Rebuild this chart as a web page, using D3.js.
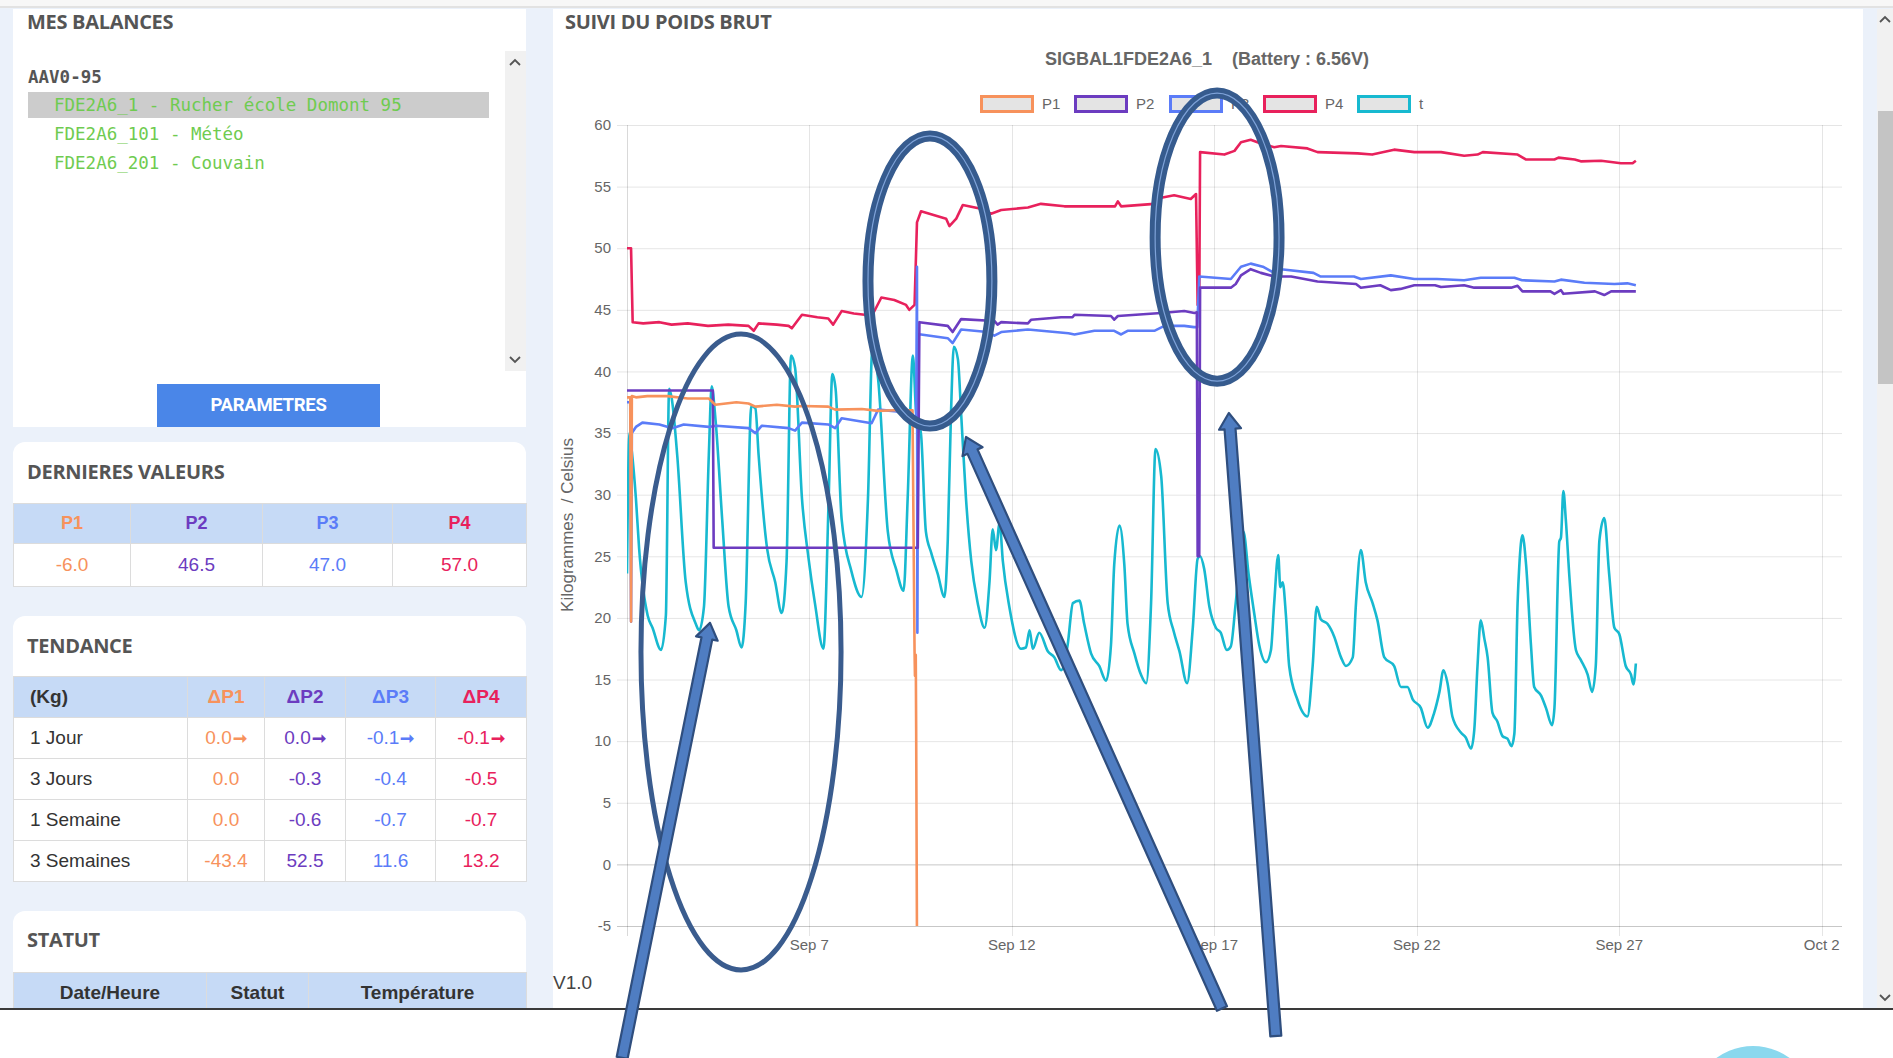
<!DOCTYPE html>
<html><head><meta charset="utf-8">
<script src="https://cdn.jsdelivr.net/npm/d3@7"></script>
<style>
html,body{margin:0;padding:0;}
body{width:1893px;height:1058px;overflow:hidden;background:#ebf1fa;position:relative;font-family:"Liberation Sans",Arial,sans-serif;}
.h{position:absolute;font-family:"Open Sans",sans-serif;font-weight:700;font-size:20px;line-height:24px;color:#555;letter-spacing:-0.3px;white-space:nowrap;}
table{border-collapse:collapse;position:absolute;font-family:"Liberation Sans",Arial,sans-serif;table-layout:fixed;}
td,th{border:1px solid #dcdcdc;padding:0;text-align:center;white-space:nowrap;}
th{background:#c6daf6;font-weight:700;}
.mono{position:absolute;font-family:"DejaVu Sans Mono",monospace;font-size:17.5px;white-space:pre;}
#ov{position:absolute;left:0;top:0;}
</style></head><body>
<div id="page"></div>
<svg id="ov" width="1893" height="1058"></svg>
<script>
// ---------------- DATA ----------------
const chartTitle = "SIGBAL1FDE2A6_1    (Battery : 6.56V)";
const seriesNames = ["P1","P2","P3","P4","t"];
const seriesColors = ["#f7925c","#6c3cc0","#5b7cf8","#e8215c","#17b9d0"];
const yTicks = [60,55,50,45,40,35,30,25,20,15,10,5,0,-5];
const xTickDays = [[8,7],[8,12],[8,17],[8,22],[8,27],[9,2]]; // [month index, day]
// series as [day of September, value]
const P1 = [[2.5,37.9],[2.58,37.9],[2.6,19.7],[2.62,38.0],[2.72,37.9],[3.0,38.0],[3.5,38.0],[4.0,37.8],[4.52,37.8],[4.68,37.3],[5.2,37.5],[5.5,37.4],[5.67,37.15],[6.2,37.3],[6.65,37.15],[6.82,37.2],[7.47,37.15],[7.64,36.9],[8.3,36.95],[8.7,36.8],[9.1,36.85],[9.55,36.85],[9.6,17.3],[9.61,15.3],[9.63,17.0],[9.64,11.0],[9.66,-6.0],[27.41,-6.0]];
const P2 = [[2.5,38.45],[4.62,38.45],[4.64,25.7],[9.68,25.7],[9.72,44.0],[10.42,43.7],[10.54,43.2],[10.75,44.25],[11.57,44.1],[11.65,43.8],[11.74,44.0],[12.4,43.9],[12.48,44.2],[13.22,44.4],[13.5,44.4],[13.55,44.6],[14.45,44.5],[14.53,44.2],[14.62,44.5],[15.69,44.75],[16.26,44.9],[16.51,44.75],[16.57,44.8],[16.59,25.0],[16.63,25.0],[16.65,46.8],[17.41,46.8],[17.53,47.1],[17.66,47.8],[17.9,48.3],[18.15,48.0],[18.48,47.7],[18.9,47.7],[19.55,47.3],[20.5,47.1],[20.62,46.8],[21.1,47.0],[21.36,46.6],[21.6,46.7],[21.94,47.0],[22.45,47.0],[22.6,46.85],[23.17,47.0],[23.42,46.8],[24.33,46.8],[24.49,46.95],[24.61,46.5],[25.3,46.5],[25.4,46.3],[25.56,46.6],[25.62,46.3],[26.4,46.5],[26.63,46.2],[26.8,46.5],[27.41,46.5]];
const P3 = [[2.5,37.5],[2.58,37.5],[2.6,19.7],[2.62,35.0],[2.72,35.5],[2.88,35.85],[3.3,35.7],[3.62,35.4],[3.9,35.7],[4.52,35.5],[4.7,35.6],[5.5,35.4],[5.67,35.0],[5.83,35.6],[6.49,35.4],[6.65,35.2],[6.82,35.85],[7.47,35.7],[7.64,35.4],[7.8,36.2],[8.54,35.8],[8.7,36.9],[9.36,36.7],[9.5,36.6],[9.64,36.2],[9.66,48.5],[9.67,18.8],[9.69,43.0],[9.76,43.0],[10.42,42.7],[10.54,42.3],[10.75,43.4],[11.4,43.2],[11.57,42.9],[11.74,43.2],[12.4,43.4],[13.4,43.1],[13.55,43.0],[14.04,43.3],[14.53,43.3],[14.7,43.0],[14.86,43.3],[15.52,43.3],[15.77,43.7],[16.26,43.7],[16.5,43.6],[16.58,43.6],[16.63,47.7],[17.41,47.5],[17.66,48.5],[17.9,48.75],[18.2,48.5],[18.48,48.0],[18.65,48.3],[19.45,48.0],[19.63,47.7],[20.45,47.7],[20.62,47.5],[21.36,47.8],[21.94,47.5],[22.5,47.5],[23.17,47.4],[23.58,47.6],[24.41,47.6],[24.6,47.4],[25.4,47.3],[25.56,47.45],[26.14,47.2],[26.88,47.1],[27.2,47.15],[27.41,47.0]];
const P4 = [[2.5,50.0],[2.6,50.0],[2.64,44.0],[2.9,43.9],[3.3,44.0],[3.6,43.8],[4.0,43.9],[4.5,43.7],[5.0,43.8],[5.5,43.7],[5.63,43.3],[5.75,43.9],[6.2,43.8],[6.49,43.7],[6.57,43.5],[6.82,44.6],[7.2,44.4],[7.47,44.3],[7.59,43.8],[7.8,44.9],[8.1,44.7],[8.37,44.6],[8.53,44.4],[8.78,46.0],[9.1,45.8],[9.39,45.4],[9.47,45.0],[9.6,45.4],[9.66,52.1],[9.76,53.0],[10.38,52.4],[10.46,51.8],[10.63,52.4],[10.79,53.5],[11.24,53.2],[11.49,52.8],[11.74,53.1],[12.4,53.3],[12.72,53.6],[13.3,53.4],[14.04,53.4],[14.55,53.4],[14.62,53.8],[14.7,53.4],[15.52,53.6],[15.69,54.1],[16.01,54.3],[16.42,54.0],[16.55,54.4],[16.59,45.4],[16.63,45.5],[16.65,57.8],[17.25,57.6],[17.5,57.9],[17.66,58.6],[17.9,58.8],[18.15,58.5],[18.48,58.2],[18.65,58.3],[19.3,58.1],[19.55,57.8],[20.54,57.7],[20.9,57.6],[21.44,58.0],[21.94,57.8],[22.6,57.8],[23.17,57.5],[23.5,57.6],[23.63,57.8],[24.49,57.6],[24.7,57.2],[25.4,57.2],[25.5,57.35],[25.9,57.2],[26.05,57.05],[26.55,57.1],[26.8,57.0],[27.04,56.9],[27.33,56.9],[27.41,57.1]];
const T = [[2.5,23.6],[2.56,35.0],[2.62,33.5],[2.72,29.7],[2.8,25.6],[3.01,20.2],[3.13,19.2],[3.34,17.4],[3.46,20.2],[3.54,38.6],[3.6,37.9],[3.74,33.2],[3.95,22.9],[4.2,19.5],[4.28,19.0],[4.4,20.9],[4.52,33.2],[4.59,38.8],[4.69,35.9],[4.85,28.0],[5.01,20.9],[5.2,19.0],[5.33,17.6],[5.43,21.2],[5.57,37.2],[5.67,37.0],[5.75,33.2],[5.96,25.6],[6.16,22.9],[6.32,20.4],[6.44,24.6],[6.55,41.3],[6.65,40.3],[6.82,29.7],[6.98,24.9],[7.14,21.2],[7.35,17.5],[7.48,29.7],[7.57,39.8],[7.65,38.6],[7.8,28.0],[8.04,23.8],[8.29,21.7],[8.45,29.7],[8.56,41.9],[8.7,39.4],[8.94,27.0],[9.15,23.9],[9.33,22.2],[9.43,29.7],[9.56,41.3],[9.64,36.6],[9.76,34.9],[9.88,27.0],[10.01,25.3],[10.17,23.6],[10.34,21.7],[10.42,26.3],[10.5,36.6],[10.57,42.0],[10.67,41.0],[10.75,36.6],[10.87,29.7],[11.0,24.6],[11.16,21.2],[11.33,19.2],[11.45,22.9],[11.53,27.2],[11.61,25.5],[11.7,27.7],[11.78,24.6],[11.94,20.9],[12.23,17.5],[12.35,17.6],[12.44,19.0],[12.52,17.5],[12.68,18.8],[12.89,17.3],[13.05,16.8],[13.22,15.75],[13.38,17.8],[13.51,21.2],[13.67,21.4],[13.79,19.5],[13.96,17.1],[14.16,16.1],[14.33,14.9],[14.45,17.8],[14.53,24.3],[14.66,27.5],[14.78,24.3],[14.86,19.5],[15.03,17.1],[15.19,15.4],[15.32,14.7],[15.44,21.2],[15.55,33.7],[15.69,31.5],[15.85,21.2],[16.0,18.9],[16.14,17.3],[16.33,14.7],[16.47,19.2],[16.59,24.8],[16.65,25.0],[16.75,24.0],[16.88,20.9],[17.04,19.2],[17.16,18.8],[17.31,17.4],[17.41,17.7],[17.53,21.2],[17.72,27.0],[17.85,23.5],[17.99,20.3],[18.11,17.8],[18.28,16.4],[18.4,17.4],[18.48,21.2],[18.58,25.1],[18.63,22.5],[18.69,22.9],[18.77,20.2],[18.85,16.1],[19.05,13.4],[19.3,12.0],[19.43,16.1],[19.53,20.9],[19.63,19.9],[19.8,19.5],[19.96,18.5],[20.13,16.8],[20.25,16.1],[20.42,16.8],[20.5,21.2],[20.62,25.5],[20.74,22.9],[20.91,21.2],[21.03,19.8],[21.2,16.8],[21.44,16.1],[21.61,14.4],[21.77,14.4],[21.9,13.4],[22.1,12.7],[22.27,11.1],[22.43,12.3],[22.56,14.0],[22.66,15.75],[22.76,14.7],[22.88,12.0],[23.09,10.7],[23.21,10.3],[23.34,9.4],[23.42,10.9],[23.5,16.1],[23.58,19.8],[23.67,18.3],[23.75,16.8],[23.87,12.3],[23.99,11.6],[24.12,10.4],[24.24,10.2],[24.34,9.6],[24.41,10.6],[24.49,21.2],[24.53,24.1],[24.61,26.7],[24.7,24.3],[24.82,17.8],[24.9,14.4],[25.07,13.7],[25.19,12.7],[25.34,11.3],[25.4,12.7],[25.52,26.2],[25.56,26.5],[25.62,30.3],[25.68,28.0],[25.77,23.3],[25.93,17.4],[26.05,16.6],[26.22,15.4],[26.33,14.0],[26.42,16.1],[26.51,26.3],[26.63,28.1],[26.75,23.6],[26.88,19.2],[27.0,18.7],[27.16,16.1],[27.29,15.4],[27.35,14.6],[27.41,16.3]];

// side panel tables
const balanceGroup = "AAV0-95";
const balances = ["FDE2A6_1 - Rucher école Domont 95","FDE2A6_101 - Météo","FDE2A6_201 - Couvain"];
const lastLabels = ["P1","P2","P3","P4"];
const lastValues = ["-6.0","46.5","47.0","57.0"];
const trendHeaders = ["ΔP1","ΔP2","ΔP3","ΔP4"];
const trendRows = ["1 Jour","3 Jours","1 Semaine","3 Semaines"];
const trendValues = [["0.0","0.0","-0.1","-0.1"],["0.0","-0.3","-0.4","-0.5"],["0.0","-0.6","-0.7","-0.7"],["-43.4","52.5","11.6","13.2"]];
const statutHeaders = ["Date/Heure","Statut","Température"];

// ---------------- PAGE LAYOUT ----------------
const page = d3.select("#page");
function div(style, html){ return page.append("div").attr("style", style).html(html||""); }
div("position:absolute;left:0;top:0;width:1893px;height:6px;background:#f7f7f7;border-bottom:2px solid #e2e2e2;");
div("position:absolute;left:13px;top:9px;width:513px;height:418px;background:#fff;");
div("position:absolute;left:13px;top:442px;width:513px;height:144px;background:#fff;border-radius:12px 12px 0 0;");
div("position:absolute;left:13px;top:616px;width:513px;height:265px;background:#fff;border-radius:12px 12px 0 0;");
div("position:absolute;left:13px;top:911px;width:513px;height:100px;background:#fff;border-radius:12px 12px 0 0;");
div("position:absolute;left:553px;top:9px;width:1310px;height:1000px;background:#fff;");
div("position:absolute;left:27px;top:10px;").attr("class","h").text("MES BALANCES");
div("position:absolute;left:27px;top:460px;").attr("class","h").text("DERNIERES VALEURS");
div("position:absolute;left:27px;top:634px;").attr("class","h").text("TENDANCE");
div("position:absolute;left:27px;top:928px;").attr("class","h").text("STATUT");
div("position:absolute;left:565px;top:10px;").attr("class","h").text("SUIVI DU POIDS BRUT");
div("position:absolute;left:505px;top:51px;width:21px;height:320px;background:#f1f1f1;");
div("position:absolute;left:28px;top:67px;font-weight:700;color:#555;").attr("class","mono").text(balanceGroup);
div("position:absolute;left:28px;top:92px;width:461px;height:26px;background:#cccccc;");
balances.forEach((b,i)=>{
  div(`position:absolute;left:54px;top:${95+i*29}px;color:#6fcb50;`).attr("class","mono").text(b);
});
div("position:absolute;left:157px;top:384px;width:223px;height:43px;background:#4a86e8;color:#fff;font-family:Roboto,'Liberation Sans',sans-serif;font-weight:700;font-size:18.5px;line-height:43px;text-align:center;letter-spacing:-0.3px;","PARAMETRES");

const t1 = page.append("table").style("left","13px").style("top","503px").style("width","513px");
const cg1 = t1.append("colgroup"); [117,132,130,134].forEach(w=>cg1.append("col").style("width",w+"px"));
t1.append("tr").style("height","40px").selectAll("th").data(lastLabels).join("th")
  .style("color",(d,i)=>seriesColors[i]).style("font-size","18px").text(d=>d);
t1.append("tr").style("height","43px").selectAll("td").data(lastValues).join("td")
  .style("color",(d,i)=>seriesColors[i]).style("font-size","19px").text(d=>d);

const t2 = page.append("table").style("left","13px").style("top","676px").style("width","513px");
const cg2 = t2.append("colgroup"); [174,77,81,90,91].forEach(w=>cg2.append("col").style("width",w+"px"));
const h2 = t2.append("tr").style("height","41px");
h2.append("th").style("text-align","left").style("padding-left","16px").style("color","#333").style("font-size","19px").text("(Kg)");
h2.selectAll("th.d").data(trendHeaders).join("th").attr("class","d").style("color",(d,i)=>seriesColors[i]).style("font-size","19px").text(d=>d);
trendRows.forEach((r,ri)=>{
  const tr = t2.append("tr").style("height","41px");
  tr.append("td").style("text-align","left").style("padding-left","16px").style("color","#333").style("font-size","19px").text(r);
  tr.selectAll("td.v").data(trendValues[ri]).join("td").attr("class","v")
    .style("color",(d,i)=>seriesColors[i]).style("font-size","19px")
    .html(d=> ri===0 ? d+'<span style="font-weight:700;font-size:17px;margin-left:1px">➞</span>' : d);
});

const t3 = page.append("table").style("left","13px").style("top","972px").style("width","513px");
const cg3 = t3.append("colgroup"); [193,102,218].forEach(w=>cg3.append("col").style("width",w+"px"));
t3.append("tr").style("height","40px").selectAll("th").data(statutHeaders).join("th")
  .style("color","#333").style("font-size","19px").text(d=>d);

div("position:absolute;left:553px;top:972px;font-size:19px;color:#444;font-family:'Liberation Sans',Arial,sans-serif;","V1.0");
div("position:absolute;left:1877px;top:9px;width:16px;height:1000px;background:#f1f1f1;");
div("position:absolute;left:1878px;top:111px;width:15px;height:273px;background:#c4c4c4;");
div("position:absolute;left:0;top:1008px;width:1893px;height:50px;background:#fff;border-top:2px solid #3a3a3a;");
div("position:absolute;left:1691px;top:1046px;width:124px;height:124px;border-radius:50%;background:#8ad8ee;");

// ---------------- CHART ----------------
const svg = d3.select("#ov");
const dayToDate = d => new Date(Date.UTC(2019,8,1) + (d-1)*86400000);
const x = d3.scaleUtc().domain([dayToDate(2.5), dayToDate(32.5)]).range([627,1842]);
const y = d3.scaleLinear().domain([-5,60]).range([926,125]);
const font = "'Liberation Sans',Arial,Helvetica,sans-serif";

function chevron(cx,cy,up){
  svg.append("path").attr("d", up ? `M${cx-5},${cy+3}L${cx},${cy-2}L${cx+5},${cy+3}` : `M${cx-5},${cy-3}L${cx},${cy+2}L${cx+5},${cy-3}`)
    .attr("fill","none").attr("stroke","#555").attr("stroke-width",1.8);
}
chevron(515,62,true); chevron(515,360,false); chevron(1885,19,true); chevron(1885,998,false);

const g = svg.append("g");
g.selectAll("line.hg").data(yTicks).join("line").attr("class","hg")
  .attr("x1",617).attr("x2",1842).attr("y1",d=>y(d)+0.5).attr("y2",d=>y(d)+0.5)
  .attr("stroke",d=> (d===0||d===-5) ? "rgba(0,0,0,0.22)" : "rgba(0,0,0,0.1)").attr("stroke-width",1);
const xTicks = xTickDays.map(([m,d])=>new Date(Date.UTC(2019,m,d)));
g.selectAll("line.vg").data([x.domain()[0], ...xTicks]).join("line").attr("class","vg")
  .attr("x1",d=>Math.round(x(d))+0.5).attr("x2",d=>Math.round(x(d))+0.5).attr("y1",125).attr("y2",936)
  .attr("stroke",(d,i)=> i===0 ? "rgba(0,0,0,0.15)" : "rgba(0,0,0,0.1)");
g.selectAll("text.yt").data(yTicks).join("text").attr("class","yt")
  .attr("x",611).attr("y",d=>y(d)).attr("dy","0.35em").attr("text-anchor","end")
  .attr("font-family",font).attr("font-size",15).attr("fill","#666").text(d=>d);
const fmt = d3.utcFormat("%b %-d");
g.selectAll("text.xt").data(xTicks).join("text").attr("class","xt")
  .attr("x",d=>x(d)).attr("y",945).attr("dy","0.35em").attr("text-anchor","middle")
  .attr("font-family",font).attr("font-size",15).attr("fill","#666").text(d=>fmt(d));
g.append("text").attr("transform","translate(567,525) rotate(-90)").attr("text-anchor","middle").attr("dy","0.35em")
  .attr("font-family",font).attr("font-size",17).attr("fill","#666").text("Kilogrammes  / Celsius").style("white-space","pre");
g.append("text").attr("x",1207).attr("y",59).attr("dy","0.35em").attr("text-anchor","middle")
  .attr("font-family",font).attr("font-size",18).attr("font-weight",700).attr("fill","#666")
  .style("white-space","pre").text(chartTitle);
const legX = [980,1074,1169,1263,1357];
seriesNames.forEach((n,i)=>{
  g.append("rect").attr("x",legX[i]+1.5).attr("y",96.5).attr("width",51).attr("height",15)
    .attr("fill","#e4e4e4").attr("stroke",seriesColors[i]).attr("stroke-width",3);
  g.append("text").attr("x",legX[i]+62).attr("y",104).attr("dy","0.35em").attr("font-family",font)
    .attr("font-size",15).attr("fill","#666").text(n);
});
svg.append("clipPath").attr("id","plotclip").append("rect").attr("x",627).attr("y",120).attr("width",1215).attr("height",806);
const line = d3.line().x(d=>x(dayToDate(d[0]))).y(d=>y(d[1]));
const smooth = d3.line().x(d=>x(dayToDate(d[0]))).y(d=>y(d[1])).curve(d3.curveMonotoneX);
const seriesData = [P1,P2,P3,P4,T];
const lg = svg.append("g").attr("clip-path","url(#plotclip)");
[4,3,2,1,0].forEach(i=>{
  lg.append("path").attr("d",(i===4?smooth:line)(seriesData[i])).attr("fill","none")
    .attr("stroke",seriesColors[i]).attr("stroke-width",2.6).attr("stroke-linejoin","round");
});

// ---------------- ANNOTATIONS (anchored in data space) ----------------
const ellipses = [
  {day:5.315, val:17.23, rdx:2.47, rdy:25.8, thick:false},
  {day:9.98, val:47.34, rdx:1.53, rdy:11.77, thick:true},
  {day:17.07, val:50.9, rdx:1.53, rdy:11.69, thick:true}
];
const arrows = [
  {from:[2.38,-15.7], to:[4.55,19.6]},
  {from:[17.19,-11.7], to:[10.87,34.68]},
  {from:[18.52,-13.93], to:[17.36,36.63]}
];
const ag = svg.append("g");
ellipses.forEach(e=>{
  const cx = x(dayToDate(e.day)), cy = y(e.val);
  const rx = x(dayToDate(e.day+e.rdx)) - cx, ry = y(e.val-e.rdy) - cy;
  if(e.thick){
    ag.append("ellipse").attr("cx",cx).attr("cy",cy).attr("rx",rx).attr("ry",ry).attr("fill","none").attr("stroke","#365b8e").attr("stroke-width",11);
    ag.append("ellipse").attr("cx",cx).attr("cy",cy).attr("rx",rx).attr("ry",ry).attr("fill","none").attr("stroke","#7fa3d9").attr("stroke-width",1.2);
  } else {
    ag.append("ellipse").attr("cx",cx).attr("cy",cy).attr("rx",rx).attr("ry",ry).attr("fill","none").attr("stroke","#3a5c8e").attr("stroke-width",5);
  }
});
arrows.forEach(a=>{
  const x1 = x(dayToDate(a.from[0])), y1 = y(a.from[1]), x2 = x(dayToDate(a.to[0])), y2 = y(a.to[1]);
  const L = Math.hypot(x2-x1,y2-y1), ux=(x2-x1)/L, uy=(y2-y1)/L, px=-uy, py=ux;
  const w=5.5, hw=11, hl=16;
  const bx = x2-ux*hl, by = y2-uy*hl;
  const pts = [[x1+px*w,y1+py*w],[bx+px*w,by+py*w],[bx+px*hw,by+py*hw],[x2,y2],[bx-px*hw,by-py*hw],[bx-px*w,by-py*w],[x1-px*w,y1-py*w]];
  ag.append("path").attr("d","M"+pts.map(p=>p.join(",")).join("L")+"Z").attr("fill","#4f7dc2").attr("stroke","#2f4e7e").attr("stroke-width",2.2).attr("stroke-linejoin","round");
});
</script>
</body></html>
